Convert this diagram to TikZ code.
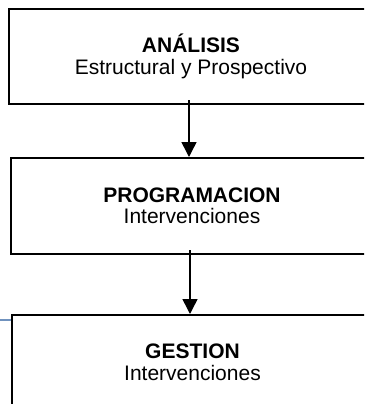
\documentclass[tikz,border=0pt]{standalone}
\usepackage{fontspec}
\setmainfont{Liberation Sans}
\usetikzlibrary{arrows.meta}
\definecolor{sideblue}{RGB}{112,146,190}
\begin{document}
\begin{tikzpicture}[x=1pt,y=-1pt,
  stagebox/.style={draw=black,line width=2pt,align=center,inner sep=0pt,
    font=\fontsize{21}{21.5}\selectfont},
  arr/.style={line width=1.5pt,-{Triangle[width=15pt,length=15pt]}},
  sideline/.style={draw=sideblue,line width=2pt}]
\useasboundingbox (0,0) rectangle (364,404);
\clip (0,0) rectangle (364,404);
\node[stagebox,minimum width=364pt,minimum height=95pt] (b1) at (191,56.5)
  {\textbf{ANÁLISIS}\\Estructural y Prospectivo};
\node[stagebox,minimum width=362pt,minimum height=96pt] (b2) at (192,206)
  {\textbf{PROGRAMACION}\\Intervenciones};
\node[stagebox,minimum width=361pt,minimum height=95pt] (b3) at (192.5,362.5)
  {\textbf{GESTION}\\Intervenciones};
\coordinate (s1) at (189,100);
\coordinate (s2) at (190,250);
\draw[arr] (s1) -- (s1 |- b2.north);
\draw[arr] (s2) -- (s2 |- b3.north);
\coordinate (bl) at (0,320);
\draw[sideline] (bl) -- (bl -| b3.west);
\end{tikzpicture}
\end{document}
